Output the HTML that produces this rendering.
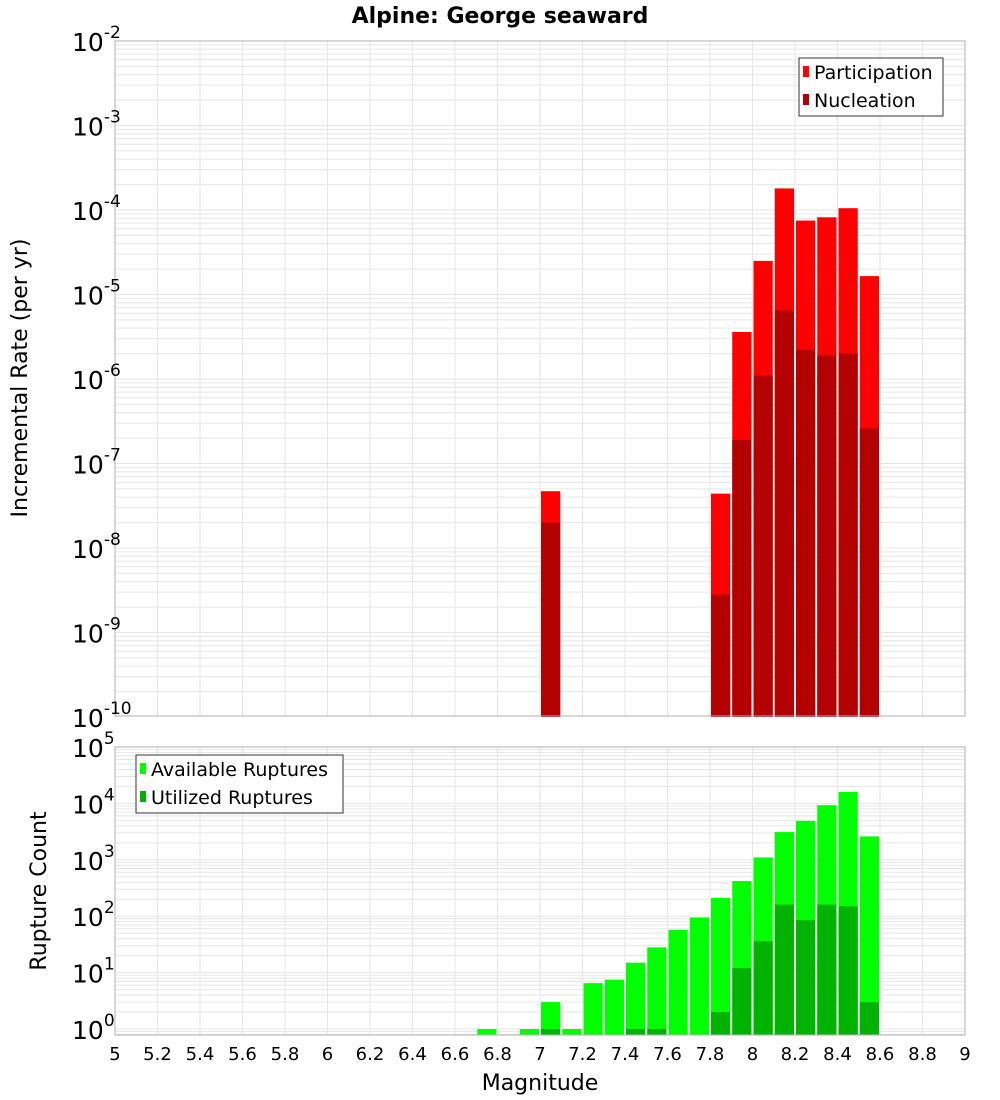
<!DOCTYPE html>
<html><head><meta charset="utf-8"><style>
body{margin:0;background:#fff;}
svg{display:block;font-family:"DejaVu Sans","Liberation Sans",sans-serif;}
</style></head><body>
<svg id="chart" width="1000" height="1100" xmlns="http://www.w3.org/2000/svg">
<text x="500" y="23" text-anchor="middle" font-size="22" font-weight="bold">Alpine: George seaward</text>
<g id="top"></g><g id="bot"></g>
<text transform="translate(27,378) rotate(-90)" text-anchor="middle" font-size="22">Incremental Rate (per yr)</text>
<text transform="translate(46,891) rotate(-90)" text-anchor="middle" font-size="22">Rupture Count</text>
<text x="540" y="1090" text-anchor="middle" font-size="22">Magnitude</text>
</svg>
<script>
const rateBins=[7.0,7.8,7.9,8.0,8.1,8.2,8.3,8.4,8.5];
const participation=[4.7e-8,4.4e-8,3.6e-6,2.5e-5,1.8e-4,7.5e-5,8.2e-5,1.05e-4,1.65e-5];
const nucleation=[2e-8,2.8e-9,1.9e-7,1.1e-6,6.5e-6,2.2e-6,1.9e-6,2.0e-6,2.6e-7];
const countBins=[6.7,6.9,7.0,7.1,7.2,7.3,7.4,7.5,7.6,7.7,7.8,7.9,8.0,8.1,8.2,8.3,8.4,8.5];
const available=[1,1,3,1,6.5,7.5,15,28,57,95,210,420,1100,3100,4900,9300,16000,2600];
const utilized=[0,0,1,0,0,0,1,1,0,0,2,12,36,160,85,160,150,3];
const xTicks=[5,5.2,5.4,5.6,5.8,6,6.2,6.4,6.6,6.8,7,7.2,7.4,7.6,7.8,8,8.2,8.4,8.6,8.8,9];
const topTicks=[-2,-3,-4,-5,-6,-7,-8,-9,-10];
const botTicks=[5,4,3,2,1,0];
const NS="http://www.w3.org/2000/svg";
const L=115,R=965;
const X=m=>L+(m-5)*(R-L)/4;
const Yt=v=>41+(-2-Math.log10(v))*84.5;
const Yb=v=>747+(5-Math.log10(v))*56.4;
function el(p,t,a){const e=document.createElementNS(NS,t);for(const k in a)e.setAttribute(k,a[k]);p.appendChild(e);return e;}
function grid(g,top,bot,Y,emin,emax){
  for(let e=emin;e<emax;e++)for(let k=1;k<10;k++){const y=Y(k*Math.pow(10,e));if(y>=top&&y<=bot){const l=el(g,'line',{x1:L,x2:R,y1:y,y2:y,stroke:'#e6e6e6','stroke-width':1});

}}
  xTicks.forEach(t=>{const l=el(g,'line',{x1:X(t),x2:X(t),y1:top,y2:bot,stroke:'#e6e6e6','stroke-width':1});

});
}
function ylabel(g,y,exp){const t=el(g,'text',{x:72,y:y+10,'font-size':25});t.innerHTML='10<tspan dy="-13" font-size="17">'+exp+'</tspan>';

}
function bar(g,m,v0,v1,Y,fill,name){const x=X(m)+1,w=X(m+0.1)-X(m)-2;const y1=Y(v1),y0=Y(v0);const r=el(g,'rect',{x:x,y:y1,width:w,height:Math.max(0,y0-y1),fill:fill});

}
// top
const gt=document.getElementById('top');
grid(gt,41,716,Yt,-10,-2);
rateBins.forEach((m,i)=>{bar(gt,m,1e-10,participation[i],Yt,'#ff0000','participation-bar');bar(gt,m,1e-10,nucleation[i],Yt,'#b30000','nucleation-bar');});
const ft=el(gt,'rect',{x:L,y:41,width:R-L,height:675,fill:'none',stroke:'#b0b0b0'});


topTicks.forEach(e=>ylabel(gt,Yt(Math.pow(10,e)),e));
// bottom
const gb=document.getElementById('bot');
const bmin=Math.pow(10,5-(1035-747)/56.4);
grid(gb,747,1035,Yb,-1,5);
countBins.forEach((m,i)=>{bar(gb,m,bmin,available[i],Yb,'#00ff00','available-bar');if(utilized[i]>0)bar(gb,m,bmin,utilized[i],Yb,'#00b300','utilized-bar');});
const fb=el(gb,'rect',{x:L,y:747,width:R-L,height:288,fill:'none',stroke:'#b0b0b0'});


botTicks.forEach(e=>ylabel(gb,Yb(Math.pow(10,e)),e));
xTicks.forEach(t=>{const tx=el(gb,'text',{x:X(t),y:1060,'text-anchor':'middle','font-size':18});tx.textContent=String(t);

});
// legends
function legend(g,x,y,w,items){const b=el(g,'rect',{x:x,y:y,width:w,height:58,fill:'#fff',stroke:'#333'});


items.forEach((it,i)=>{const s=el(g,'rect',{x:x+4,y:y+8+i*28,width:6,height:11,fill:it[1]});


const t=el(g,'text',{x:x+15,y:y+21+i*28,'font-size':19});t.textContent=it[0];

});}
legend(gt,799,58,144,[['Participation','#ff0000'],['Nucleation','#b30000']]);
legend(gb,136,755,207,[['Available Ruptures','#00ff00'],['Utilized Ruptures','#00b300']]);
</script>
</body></html>
